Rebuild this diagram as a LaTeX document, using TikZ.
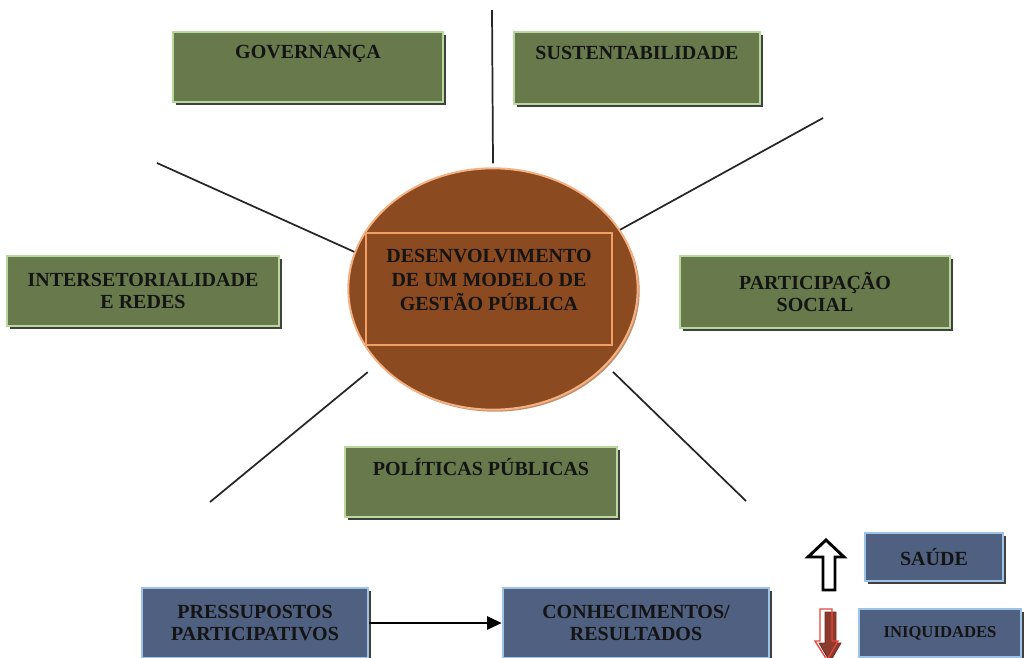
\documentclass[tikz,border=0pt]{standalone}
\usepackage{fontspec}
\setmainfont{Liberation Serif}
\usepackage{tikz}
\usetikzlibrary{arrows.meta}
\usetikzlibrary{shapes}
\usetikzlibrary{shadows}
\definecolor{olivefill}{HTML}{687A4C}
\definecolor{oliveline}{HTML}{B9D89D}
\definecolor{slatefill}{HTML}{4F6080}
\definecolor{slateline}{HTML}{9EC3E6}
\definecolor{corefill}{HTML}{8B4A20}
\definecolor{coreline}{HTML}{F4B183}
\definecolor{frameline}{HTML}{F0A064}
\definecolor{downfill}{HTML}{8B3A2E}
\definecolor{downline}{HTML}{E8453C}
\tikzset{
themebox/.style={
  rectangle,
  align=center,
  draw=oliveline,
  line width=1.5pt,
  fill=olivefill,
  text=black!92,
  font=\bfseries\fontsize{15}{17}\selectfont,
  drop shadow={shadow xshift=2.2pt, shadow yshift=-2.2pt, fill=black!75, opacity=1}
  }
}
\tikzset{
outcomebox/.style={
  themebox,
  draw=slateline,
  fill=slatefill
  }
}
\tikzstyle{spoke} = [draw,line width=1.3pt,black!85]
\tikzset{%
    boundingBox/.style={use as bounding box},
    }

\begin{document}
\begin{tikzpicture}[x=0.75pt, y=-0.75pt]
        \path[boundingBox] (0,0) rectangle (1024,657);
        \clip (0,0) rectangle (1024,657);

		%centre
		\node (vcore) at (493, 289) [ellipse, draw=coreline, line width=1.5pt, fill=corefill, minimum width=217pt, minimum height=181pt, drop shadow={shadow xshift=1.5pt, shadow yshift=-1.5pt, fill=coreline!80!black, opacity=1}] {};
		\node (vframe) at (489, 289) [rectangle, draw=frameline, line width=1.3pt, minimum width=185pt, minimum height=84pt] {};
		\node (vtitle) at (489, 280) [align=center, text=black!92, font=\bfseries\fontsize{15}{18}\selectfont] {DESENVOLVIMENTO\\DE UM MODELO DE\\GESTÃO PÚBLICA};

		%themes
		\node (vgov) at (308, 67) [themebox, minimum width=202pt, minimum height=53pt] {GOVERNANÇA\\\strut};
		\node (vsus) at (637, 68) [themebox, minimum width=184pt, minimum height=54pt] {SUSTENTABILIDADE\\\strut};
		\node (vint) at (143, 291) [themebox, minimum width=204pt, minimum height=53pt] {INTERSETORIALIDADE\\E REDES};
		\node (vpar) at (815, 292) [themebox, minimum width=203pt, minimum height=54pt] {PARTICIPAÇÃO\\SOCIAL};
		\node (vpol) at (481, 482) [themebox, minimum width=204pt, minimum height=53pt] {POLÍTICAS PÚBLICAS\\\strut};

		%outcomes
		\node (vpre) at (255, 623) [outcomebox, minimum width=170pt, minimum height=53pt] {PRESSUPOSTOS\\PARTICIPATIVOS};
		\node (vcon) at (636, 623) [outcomebox, minimum width=200pt, minimum height=53pt] {CONHECIMENTOS/\\RESULTADOS};
		\node (vsau) at (934, 557) [outcomebox, minimum width=103pt, minimum height=36pt] {SAÚDE};
		\node (vini) at (940, 633) [outcomebox, minimum width=122pt, minimum height=36pt, font=\bfseries\fontsize{12.5}{14}\selectfont] {INIQUIDADES};

		%free ends of the spokes
		\coordinate (ctop) at (492, 10);
		\coordinate (clt) at (157, 163);
		\coordinate (crt) at (823, 118);
		\coordinate (clb) at (210, 502);
		\coordinate (crb) at (746, 501);

		%edges
		\draw[spoke] (vcore.north) ++(0,-4) -- (ctop);
		\draw[spoke] (vcore.165) -- (clt);
		\draw[spoke] (vcore.25) -- (crt);
		\draw[spoke, shorten <=10pt] (vcore.213) -- (clb);
		\draw[spoke, shorten <=7pt] (vcore.326) -- (crb);

		\draw[-{Triangle[width=10pt,length=11pt]}, line width=1.3pt] (vpre.east) -- (vcon.west);

		%trend arrows
		\draw[line width=2.2pt, fill=white, line join=miter] (826,540) -- (844,557) -- (835,557) -- (835,590) -- (823,590) -- (823,557) -- (808,557) -- cycle;
		\draw[fill=downfill, draw=downfill!80!black, line width=0.6pt] (825,612) -- (836,612) -- (836,643) -- (841,643) -- (830,662) -- (819,643) -- (825,643) -- cycle;
		\draw[draw=downline, line width=1pt] (820,609) -- (832,609) -- (832,641) -- (838,641) -- (827,660) -- (815,641) -- (820,641) -- cycle;
\end{tikzpicture}
\end{document}
